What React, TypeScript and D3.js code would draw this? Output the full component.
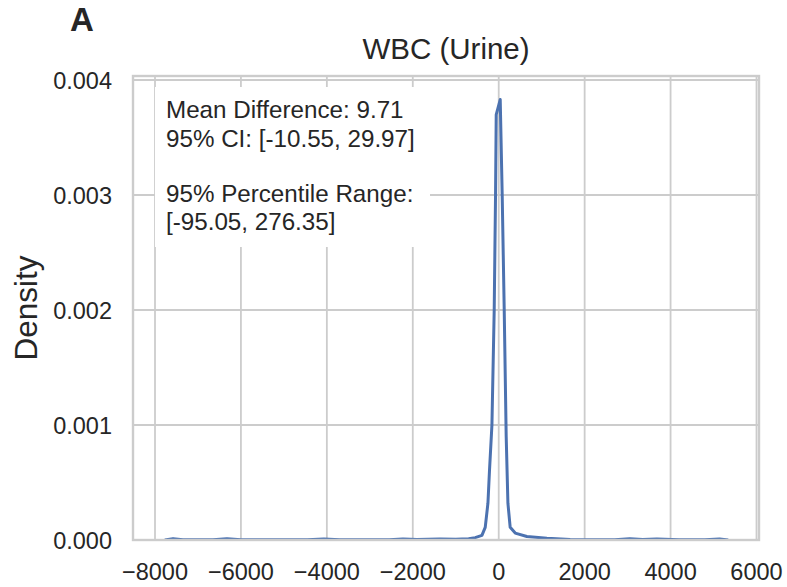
import React from "react";
import * as d3 from "d3";

// KDE of differences
const kdeX = [
  -7772, -7580, -7350, -6650, -6325, -6000, -4450, -4070, -3700, -2550, -2230, -1900,
  -1370, -1000, -700, -547, -391, -314, -251, -214, -158, -105, -74, -58, 35, 81, 128,
  174, 214, 267, 384, 656, 1121, 1663, 2200, 2700, 3050, 3350, 3680, 4200, 4800, 5140, 5342,
];
const kdeDensity = [
  0, 0.000012, 0.000002, 0.000002, 0.00001, 0.000002, 0.000002, 0.000009, 0.000002,
  0.000003, 0.000009, 0.000004, 0.000009, 0.000007, 0.00001, 0.00002, 0.00004, 0.00011,
  0.00032, 0.00061, 0.001, 0.002, 0.003, 0.0037, 0.00383, 0.003, 0.002, 0.0009, 0.00032,
  0.00011, 0.00006, 0.00003, 0.000015, 0.000005, 0.000002, 0.000003, 0.00001, 0.000004,
  0.000008, 0.000002, 0.000002, 0.000009, 0,
];
const xTicks = [-8000, -6000, -4000, -2000, 0, 2000, 4000, 6000];
const yTicks = [0, 0.001, 0.002, 0.003, 0.004];
const annotationLines = [
  "Mean Difference: 9.71",
  "95% CI: [-10.55, 29.97]",
  "",
  "95% Percentile Range:",
  "[-95.05, 276.35]",
];
const title = "WBC (Urine)";
const yLabel = "Density";
const panelLabel = "A";

const W = 787;
const H = 587;
const L = 133;
const R = 759;
const T = 76;
const B = 540;
const FONT = "'Liberation Sans', Arial, Helvetica, sans-serif";
const TEXT = "#262626";
const GRID = "#cccccc";
const BLUE = "#4c72b0";

export default function App() {
  const x = d3.scaleLinear().domain([-8512, 6058]).range([L, R]);
  const y = d3.scaleLinear().domain([0, 0.004035]).range([B, T]);
  const pts = kdeX.map((v, i) => [v, kdeDensity[i]] as [number, number]);
  const line = d3
    .line<[number, number]>()
    .x((d) => x(d[0]))
    .y((d) => y(d[1]))
    .curve(d3.curveLinear);
  const fmtY = d3.format(".3f");
  const fmtX = (v: number) => (v < 0 ? "\u2212" + Math.abs(v) : String(v));
  const lineY = [118, 147, 175, 202, 230];

  return (
    <svg
      width={W}
      height={H}
      style={{ position: "fixed", left: 0, top: 0, background: "#fff" }}
      fontFamily={FONT}
    >
      <defs>
        <clipPath id="plotClip">
          <rect x={L} y={T} width={R - L} height={B - T} />
        </clipPath>
      </defs>
      <rect x={0} y={0} width={W} height={H} fill="#fff" />
      {/* grid */}
      {xTicks.map((t) => (
        <line key={"gx" + t} x1={x(t)} x2={x(t)} y1={T} y2={B} stroke={GRID} strokeWidth={1.8} />
      ))}
      {yTicks.map((t) => (
        <line key={"gy" + t} x1={L} x2={R} y1={y(t)} y2={y(t)} stroke={GRID} strokeWidth={1.8} />
      ))}
      {/* annotation box */}
      <rect x={155} y={87} width={275} height={160} fill="#fff" />
      {/* KDE curve */}
      <path
        d={line(pts) || ""}
        fill="none"
        stroke={BLUE}
        strokeWidth={3}
        strokeLinejoin="round"
        clipPath="url(#plotClip)"
      />
      {/* frame */}
      <rect x={L} y={T} width={R - L} height={B - T} fill="none" stroke={GRID} strokeWidth={2.4} />
      {/* annotation text */}
      {annotationLines.map((s, i) =>
        s ? (
          <text key={"a" + i} x={166} y={lineY[i]} fontSize={24.2} fill={TEXT}>
            {s}
          </text>
        ) : null
      )}
      {/* y tick labels */}
      {yTicks.map((t) => (
        <text
          key={"ty" + t}
          x={112}
          y={y(t) + 8.5}
          fontSize={23.5}
          fill={TEXT}
          textAnchor="end"
        >
          {fmtY(t)}
        </text>
      ))}
      {/* x tick labels */}
      {xTicks.map((t) => (
        <text key={"tx" + t} x={x(t)} y={580} fontSize={23.5} fill={TEXT} textAnchor="middle">
          {fmtX(t)}
        </text>
      ))}
      {/* title */}
      <text x={(L + R) / 2} y={59} fontSize={29.5} fill={TEXT} textAnchor="middle">
        {title}
      </text>
      {/* y label */}
      <text
        transform={`translate(37, ${(T + B) / 2}) rotate(-90)`}
        fontSize={31.5}
        fill={TEXT}
        textAnchor="middle"
      >
        {yLabel}
      </text>
      {/* panel label */}
      <text x={70} y={31} fontSize={33} fontWeight="bold" fill={TEXT}>
        {panelLabel}
      </text>
    </svg>
  );
}
